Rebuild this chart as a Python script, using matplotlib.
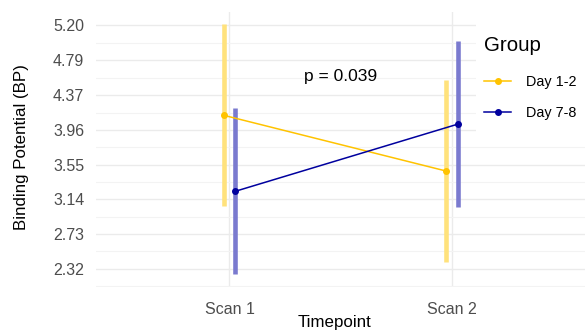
import matplotlib
matplotlib.use("Agg")
import matplotlib.pyplot as plt
from matplotlib.patches import Rectangle
import numpy as np

plt.rcParams["font.family"] = ["Liberation Sans", "DejaVu Sans"]

# Data
timepoints = ["Scan 1", "Scan 2"]
groups = ["Day 1-2", "Day 7-8"]
mean_day12 = [4.135, 3.475]
err_day12 = [1.075, 1.075]
mean_day78 = [3.235, 4.03]
err_day78 = [0.985, 0.98]
y_breaks = [2.32, 2.73, 3.14, 3.55, 3.96, 4.37, 4.79, 5.20]
p_label = "p = 0.039"

line_colors = ["#FFC300", "#00009E"]
bar_colors = ["#FFE27C", "#7A7ACF"]
dodge = [-0.026, 0.026]

W, H, DPI = 587, 331, 100
fig = plt.figure(figsize=(W / DPI, H / DPI), dpi=DPI)
px_l, px_r, px_t, px_b = 96, 585.4, 12, 287
ax = fig.add_axes([px_l / W, 1 - px_b / H, (px_r - px_l) / W, (px_b - px_t) / H])

x = np.arange(1, len(timepoints) + 1)
series = [(mean_day12, err_day12), (mean_day78, err_day78)]

for (m, e), bc, dx in zip(series, bar_colors, dodge):
    m = np.asarray(m)
    e = np.asarray(e)
    ax.vlines(x + dx, m - e, m + e, colors=bc, linewidth=3.3, zorder=2)
for (m, e), grp, lc, dx in zip(series, groups, line_colors, dodge):
    ax.plot(x + dx, m, color=lc, lw=1.1, marker="o", markersize=4.0,
            label=grp, zorder=3)

# Axis limits with 5% padding of the data range
lo = min(np.min(np.subtract(mean_day12, err_day12)), np.min(np.subtract(mean_day78, err_day78)))
hi = max(np.max(np.add(mean_day12, err_day12)), np.max(np.add(mean_day78, err_day78)))
pad = 0.05 * (hi - lo)
ax.set_ylim(lo - pad, hi + pad)
ax.set_xlim(0.4, len(timepoints) + 0.6)

ax.set_xticks(x)
ax.set_xticklabels(timepoints)
ax.set_yticks(y_breaks)
ax.set_yticklabels([f"{v:.2f}" for v in y_breaks])
step = y_breaks[1] - y_breaks[0]
minors = [y_breaks[0] - step / 2] + [(a + b) / 2 for a, b in zip(y_breaks[:-1], y_breaks[1:])]
ax.set_yticks(minors, minor=True)

ax.tick_params(axis="both", which="both", length=0, labelsize=11.5, labelcolor="#4D4D4D")
ax.tick_params(axis="y", pad=8.4)
ax.tick_params(axis="x", pad=11.0)

ax.grid(True, which="major", axis="both", color="#EBEBEB", lw=1.0, zorder=0)
ax.grid(True, which="minor", axis="y", color="#F3F3F3", lw=0.8, zorder=0)
ax.set_axisbelow(True)
for s in ax.spines.values():
    s.set_visible(False)

ax.text(1.5, 4.60, p_label, ha="center", va="center", fontsize=12.5, color="black")

fig.text(335 / W, 1 - 326.5 / H, "Timepoint", ha="center", va="baseline", fontsize=12.2)
fig.text(22 / W, 1 - 147.5 / H, "Binding Potential (BP)", ha="center", va="center",
         rotation=90, fontsize=12.2)

# Legend area background
fig.patches.append(Rectangle((476 / W, 1 - 138 / H), 1, 1, transform=fig.transFigure,
                             facecolor="white", edgecolor="none", zorder=1))
leg = fig.legend(loc="upper left", bbox_to_anchor=(477 / W, 1 - 29 / H), frameon=False,
                 title="Group", title_fontsize=14.8, fontsize=10.4, handlelength=1.85,
                 handletextpad=1.05, labelspacing=1.2, borderpad=0, alignment="left")
# a little more room between the legend title and its entries
leg._legend_box.sep += 1.5

fig.savefig("out.png", dpi=DPI)
